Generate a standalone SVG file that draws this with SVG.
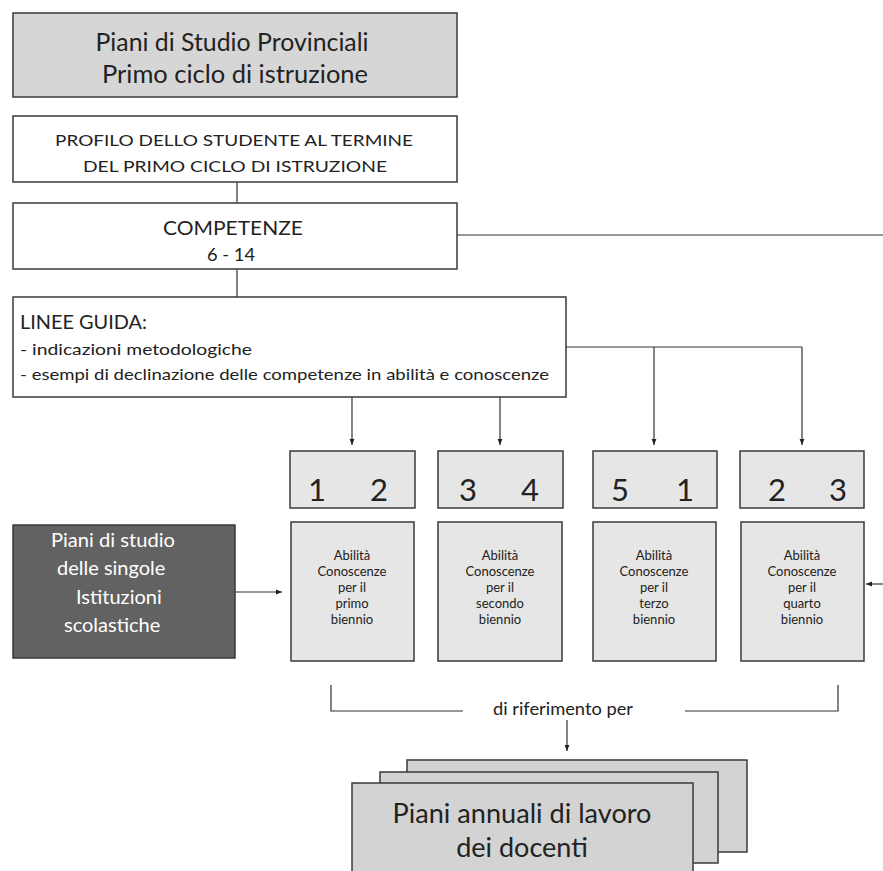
<svg xmlns="http://www.w3.org/2000/svg" width="883" height="871" viewBox="0 0 883 871">
<style>
.box{stroke:#3a3a3a;stroke-width:1.5}
.w{fill:#ffffff}
.g{fill:#d6d6d6}
.l{fill:#e6e6e6}
.d{fill:#626262}
.s{fill:#d3d3d3}
text{font-family:Lato,"Open Sans","Liberation Sans",sans-serif;fill:#222}
.c{text-anchor:middle}
.num{font-size:31px;text-anchor:middle}
.sm{font-size:13px;text-anchor:middle}
.wt{fill:#ffffff;font-size:20px}
.con{stroke:#333;stroke-width:1.2;fill:none}
</style>
<defs>
<marker id="ah" viewBox="0 0 10 10" refX="10" refY="5" markerWidth="6" markerHeight="6" orient="auto" markerUnits="userSpaceOnUse">
<path d="M0,1 L10,5 L0,9 z" fill="#222"/>
</marker>
</defs>

<g id="connectors">
<line class="con" x1="237" y1="182" x2="237" y2="203"/>
<line class="con" x1="457" y1="235" x2="883" y2="235"/>
<line class="con" x1="237" y1="269" x2="237" y2="297"/>
<polyline class="con" points="566,347 802,347"/>
<line class="con" x1="654" y1="347" x2="654" y2="445" marker-end="url(#ah)"/>
<line class="con" x1="802" y1="347" x2="802" y2="445" marker-end="url(#ah)"/>
<line class="con" x1="352" y1="397" x2="352" y2="445" marker-end="url(#ah)"/>
<line class="con" x1="500" y1="397" x2="500" y2="445" marker-end="url(#ah)"/>
<line class="con" x1="235" y1="592" x2="282" y2="592" marker-end="url(#ah)"/>
<line class="con" x1="883" y1="584" x2="866" y2="584" marker-end="url(#ah)"/>
<polyline class="con" points="331,685 331,711 463,711"/>
<polyline class="con" points="685,711 838,711 838,685"/>
<line class="con" x1="567" y1="720" x2="567" y2="751" marker-end="url(#ah)"/>
</g>

<g id="n-top">
<rect class="box g" x="13" y="13" width="444" height="84"/>
<text class="c" x="232" y="51" font-size="25" textLength="273" lengthAdjust="spacingAndGlyphs">Piani di Studio Provinciali</text>
<text class="c" x="235" y="83" font-size="25" textLength="266" lengthAdjust="spacingAndGlyphs">Primo ciclo di istruzione</text>
</g>

<g id="n-profilo">
<rect class="box w" x="13" y="116" width="444" height="66"/>
<text class="c" x="234" y="146" font-size="16" textLength="358" lengthAdjust="spacingAndGlyphs">PROFILO DELLO STUDENTE AL TERMINE</text>
<text class="c" x="235" y="172" font-size="16" textLength="304" lengthAdjust="spacingAndGlyphs">DEL PRIMO CICLO DI ISTRUZIONE</text>
</g>

<g id="n-competenze">
<rect class="box w" x="13" y="203" width="444" height="66"/>
<text class="c" x="233" y="235" font-size="20" textLength="140" lengthAdjust="spacingAndGlyphs">COMPETENZE</text>
<text class="c" x="231" y="261" font-size="17" textLength="48" lengthAdjust="spacingAndGlyphs">6 - 14</text>
</g>

<g id="n-linee">
<rect class="box w" x="13" y="297" width="553" height="100"/>
<text x="20" y="329" font-size="19" textLength="127" lengthAdjust="spacingAndGlyphs">LINEE GUIDA:</text>
<text x="20" y="355" font-size="15" textLength="232" lengthAdjust="spacingAndGlyphs">- indicazioni metodologiche</text>
<text x="20" y="380" font-size="15" textLength="529" lengthAdjust="spacingAndGlyphs">- esempi di declinazione delle competenze in abilità e conoscenze</text>
</g>

<g id="n-num1">
<rect class="box l" x="290" y="451" width="125" height="57"/>
<text class="num" x="317" y="501">1</text>
<text class="num" x="379" y="501">2</text>
</g>
<g id="n-num2">
<rect class="box l" x="438" y="451" width="125" height="57"/>
<text class="num" x="468" y="501">3</text>
<text class="num" x="530" y="501">4</text>
</g>
<g id="n-num3">
<rect class="box l" x="593" y="451" width="124" height="57"/>
<text class="num" x="620" y="501">5</text>
<text class="num" x="685" y="501">1</text>
</g>
<g id="n-num4">
<rect class="box l" x="740" y="451" width="124" height="57"/>
<text class="num" x="777" y="501">2</text>
<text class="num" x="838" y="501">3</text>
</g>

<g id="n-istituzioni">
<rect class="box d" x="13" y="525" width="222" height="133"/>
<text class="wt" x="51" y="547" textLength="124" lengthAdjust="spacingAndGlyphs">Piani di studio</text>
<text class="wt" x="57" y="575">delle singole</text>
<text class="wt" x="76" y="604">Istituzioni</text>
<text class="wt" x="64" y="632">scolastiche</text>
</g>

<g id="n-b1">
<rect class="box l" x="291" y="522" width="123" height="139"/>
<text class="sm" x="352" y="560">Abilità</text>
<text class="sm" x="352" y="576">Conoscenze</text>
<text class="sm" x="352" y="592">per il</text>
<text class="sm" x="352" y="608">primo</text>
<text class="sm" x="352" y="624">biennio</text>
</g>
<g id="n-b2">
<rect class="box l" x="438" y="522" width="124" height="139"/>
<text class="sm" x="500" y="560">Abilità</text>
<text class="sm" x="500" y="576">Conoscenze</text>
<text class="sm" x="500" y="592">per il</text>
<text class="sm" x="500" y="608">secondo</text>
<text class="sm" x="500" y="624">biennio</text>
</g>
<g id="n-b3">
<rect class="box l" x="593" y="522" width="123" height="139"/>
<text class="sm" x="654" y="560">Abilità</text>
<text class="sm" x="654" y="576">Conoscenze</text>
<text class="sm" x="654" y="592">per il</text>
<text class="sm" x="654" y="608">terzo</text>
<text class="sm" x="654" y="624">biennio</text>
</g>
<g id="n-b4">
<rect class="box l" x="741" y="522" width="123" height="139"/>
<text class="sm" x="802" y="560">Abilità</text>
<text class="sm" x="802" y="576">Conoscenze</text>
<text class="sm" x="802" y="592">per il</text>
<text class="sm" x="802" y="608">quarto</text>
<text class="sm" x="802" y="624">biennio</text>
</g>

<g id="label-riferimento">
<text class="c" x="563" y="715" font-size="18" textLength="140" lengthAdjust="spacingAndGlyphs">di riferimento per</text>
</g>

<g id="n-piani-annuali">
<rect class="box s" x="407" y="760" width="340" height="92"/>
<rect class="box s" x="380" y="772" width="338" height="91"/>
<rect class="box s" x="352" y="783" width="341" height="100"/>
<text class="c" x="522" y="823" font-size="27" textLength="259" lengthAdjust="spacingAndGlyphs">Piani annuali di lavoro</text>
<text class="c" x="522" y="857" font-size="27">dei docenti</text>
</g>
</svg>
